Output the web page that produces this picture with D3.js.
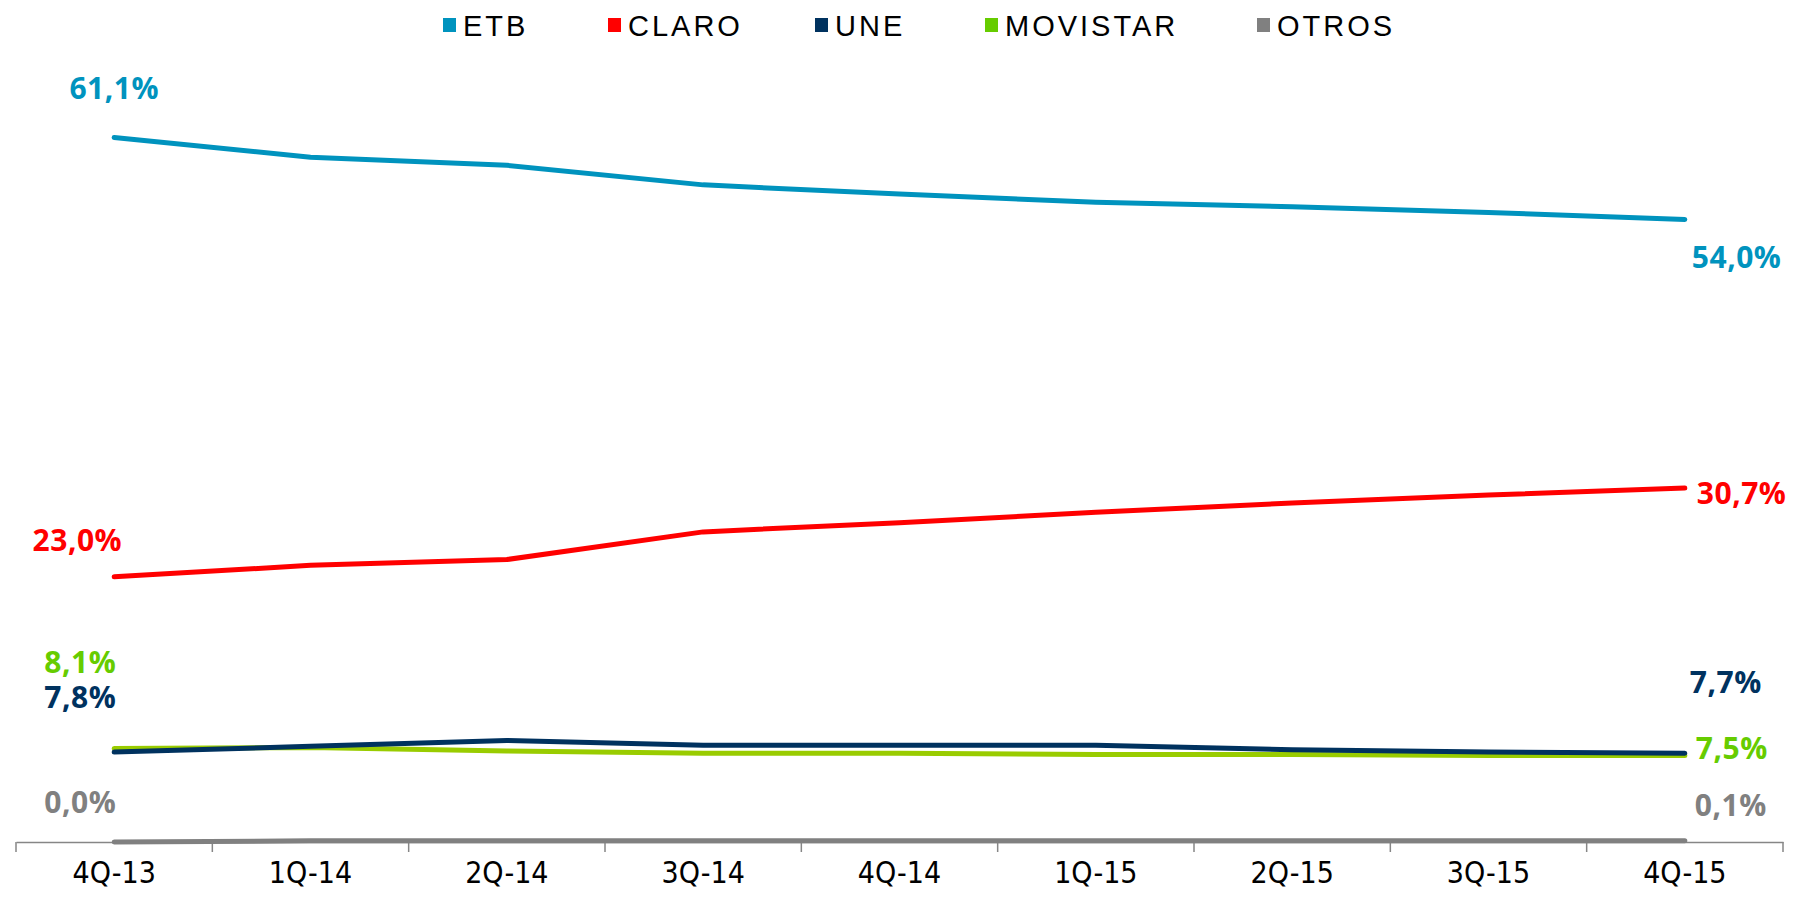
<!DOCTYPE html>
<html>
<head>
<meta charset="utf-8">
<script src="https://cdn.jsdelivr.net/npm/d3@7"></script>
<style>
  body { margin: 0; background: #fff; }
  svg { display: block; }
</style>
</head>
<body>
<script>
var Width = 1795;
var Height = 899;

// data
var categories = ["4Q-13", "1Q-14", "2Q-14", "3Q-14", "4Q-14", "1Q-15", "2Q-15", "3Q-15", "4Q-15"];
var seriesNames = ["ETB", "CLARO", "UNE", "MOVISTAR", "OTROS"];
var etbValues = [61.1, 59.4, 58.7, 57.0, 56.2, 55.5, 55.1, 54.6, 54.0];
var claroValues = [23.0, 24.0, 24.5, 26.9, 27.7, 28.6, 29.4, 30.1, 30.7];
var uneValues = [7.8, 8.3, 8.8, 8.4, 8.4, 8.4, 8.0, 7.8, 7.7];
var movistarValues = [8.1, 8.2, 7.9, 7.7, 7.7, 7.6, 7.6, 7.5, 7.5];
var otrosValues = [0.0, 0.1, 0.1, 0.1, 0.1, 0.1, 0.1, 0.1, 0.1];

var lineColors = { ETB: "#0093be", CLARO: "#ff0000", UNE: "#00325f", MOVISTAR: "#99cc00", OTROS: "#808080" };
var labelColors = { ETB: "#0093be", CLARO: "#ff0000", UNE: "#00325f", MOVISTAR: "#66cc00", OTROS: "#808080" };

// label placement (first and last point)
var firstLabel = {
  ETB: { anchor: "middle", dx: 0, dy: -39 },
  CLARO: { anchor: "end", dx: 8, dy: -26 },
  UNE: { anchor: "end", dx: 2, dy: -44 },
  MOVISTAR: { anchor: "end", dx: 2, dy: -76 },
  OTROS: { anchor: "end", dx: 2, dy: -29 }
};
var lastLabel = {
  ETB: { dx: 7, dy: 49 },
  CLARO: { dx: 12, dy: 16 },
  UNE: { dx: 5, dy: -60 },
  MOVISTAR: { dx: 11, dy: 3 },
  OTROS: { dx: 10, dy: -25 }
};

var series = [
  { name: "ETB", values: etbValues },
  { name: "CLARO", values: claroValues },
  { name: "MOVISTAR", values: movistarValues },
  { name: "UNE", values: uneValues },
  { name: "OTROS", values: otrosValues }
];

var svg = d3.select("body").append("svg")
  .attr("width", Width)
  .attr("height", Height);

var x = d3.scaleBand()
  .domain(categories)
  .range([16, 1783]);

var y = d3.scaleLinear()
  .domain([0, 70])
  .range([842, 35]);

function fmt(v) {
  return v.toFixed(1).replace(".", ",") + "%";
}

// axis
var axis = svg.append("g")
  .attr("transform", "translate(0," + y(0) + ")")
  .call(d3.axisBottom(x).tickSize(0));
axis.select(".domain").attr("stroke", "#868686").attr("stroke-width", 1.5);
axis.selectAll(".tick text")
  .attr("y", 41)
  .attr("dy", "0")
  .attr("font-family", "'Liberation Sans Narrow', 'DejaVu Sans Condensed', sans-serif")
  .attr("font-size", "30px")
  .attr("fill", "#000");

// tick marks at band boundaries
var bounds = categories.map(function (c) { return x(c); }).concat([x.range()[1]]);
svg.append("g")
  .selectAll("line")
  .data(bounds)
  .enter()
  .append("line")
  .attr("x1", function (d) { return d; })
  .attr("x2", function (d) { return d; })
  .attr("y1", y(0))
  .attr("y2", y(0) + 10)
  .attr("stroke", "#868686")
  .attr("stroke-width", 1.5);

var line = d3.line()
  .x(function (d, i) { return x(categories[i]) + x.bandwidth() / 2; })
  .y(function (d) { return y(d); });

svg.append("g")
  .selectAll("path")
  .data(series)
  .enter()
  .append("path")
  .attr("fill", "none")
  .attr("stroke", function (d) { return lineColors[d.name]; })
  .attr("stroke-width", 5)
  .attr("stroke-linecap", "round")
  .attr("stroke-linejoin", "round")
  .attr("d", function (d) { return line(d.values); });

// data labels
var labels = svg.append("g")
  .attr("font-family", "'Open Sans', sans-serif")
  .attr("font-weight", "bold")
  .attr("font-size", "30px");

series.forEach(function (s) {
  var n = s.values.length;
  var x0 = x(categories[0]) + x.bandwidth() / 2;
  var x1 = x(categories[n - 1]) + x.bandwidth() / 2;
  var f = firstLabel[s.name];
  var l = lastLabel[s.name];
  labels.append("text")
    .attr("x", x0 + f.dx)
    .attr("y", y(s.values[0]) + f.dy)
    .attr("text-anchor", f.anchor)
    .attr("letter-spacing", "0.5px")
    .attr("fill", labelColors[s.name])
    .text(fmt(s.values[0]));
  labels.append("text")
    .attr("x", x1 + l.dx)
    .attr("y", y(s.values[n - 1]) + l.dy)
    .attr("text-anchor", "start")
    .attr("letter-spacing", "0.5px")
    .attr("fill", labelColors[s.name])
    .text(fmt(s.values[n - 1]));
});

// legend
var legendX = [443, 608, 815, 985, 1257];
var legend = svg.append("g")
  .selectAll("g")
  .data(seriesNames)
  .enter()
  .append("g")
  .attr("transform", function (d, i) { return "translate(" + legendX[i] + ",0)"; });

legend.append("rect")
  .attr("x", 0)
  .attr("y", 18)
  .attr("width", 13)
  .attr("height", 14)
  .attr("fill", function (d) { return labelColors[d]; });

legend.append("text")
  .attr("x", 20)
  .attr("y", 36)
  .attr("font-family", "'Liberation Sans', Arial, sans-serif")
  .attr("font-size", "29px")
  .attr("letter-spacing", "3px")
  .attr("fill", "#000")
  .text(function (d) { return d; });
</script>
</body>
</html>
